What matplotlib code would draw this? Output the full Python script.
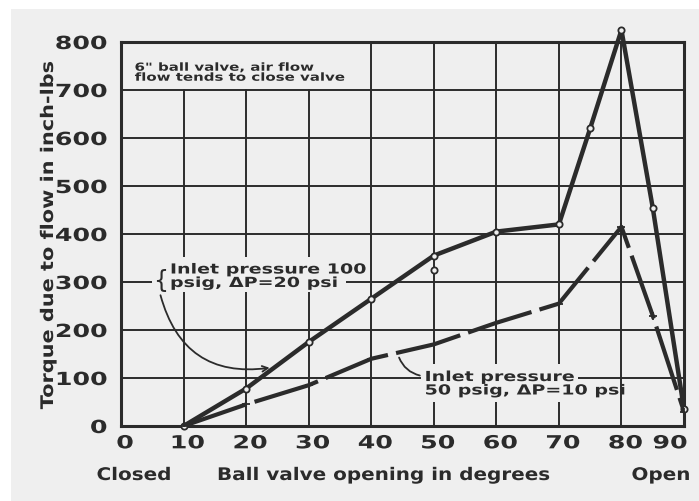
import matplotlib
matplotlib.use("Agg")
import matplotlib.pyplot as plt
from matplotlib.patches import Rectangle
import matplotlib.transforms as mtransforms
from matplotlib.transforms import Affine2D
from matplotlib.patheffects import AbstractPathEffect

# ---- data ----
x_high = [10, 20, 30, 40, 50, 60, 70, 75, 80, 85, 90]
y_high = [0, 78, 175, 265, 355, 405, 420, 620, 825, 455, 35]
x_low = [10, 20, 30, 40, 50, 60, 70, 80, 85, 90]
y_low = [0, 45, 85, 140, 170, 215, 255, 415, 230, 30]
stray_x = [50]
stray_y = [325]

xticks = [0, 10, 20, 30, 40, 50, 60, 70, 80, 90]
xticklabels = ["0", "10", "20", "30", "40", "50", "60", "70", "80", "90"]
yticks = [0, 100, 200, 300, 400, 500, 600, 700, 800]
yticklabels = ["0", "100", "200", "300", "400", "500", "600", "700", "800"]

note_top = '6" ball valve, air flow\nflow tends to close valve'
label_high = "Inlet pressure 100\npsig, \u0394P=20 psi"
label_low = "Inlet pressure\n50 psig, \u0394P=10 psi"
ylabel = "Torque due to flow in inch-lbs"
xlabel = "Ball valve opening in degrees"

BG = "#efefef"
INK = "#2b2b2b"
plt.rcParams["font.family"] = ["DejaVu Sans"]
plt.rcParams["font.weight"] = "bold"


class Stretch(AbstractPathEffect):
    """Widen glyphs horizontally (lettering-guide look)."""
    def __init__(self, sx, anchor="center"):
        super().__init__()
        self.sx = sx
        self.anchor = anchor

    def draw_path(self, renderer, gc, tpath, affine, rgbFace=None):
        ext = tpath.get_extents()
        if self.anchor == "left":
            cx = ext.x0
        elif self.anchor == "right":
            cx = ext.x1
        else:
            cx = 0.5 * (ext.x0 + ext.x1)
        t = Affine2D().translate(-cx, 0).scale(self.sx, 1).translate(cx, 0) + affine
        renderer.draw_path(gc, tpath, t, rgbFace)


fig = plt.figure(figsize=(6.99, 5.02), dpi=100)
fig.patch.set_facecolor("white")
fig.patches.append(Rectangle((11 / 699, 0), 1, (502 - 10) / 502,
                             transform=fig.transFigure, facecolor=BG,
                             edgecolor="none", zorder=-10))

ax = fig.add_axes([121 / 699, 1 - 427 / 502, (684 - 121) / 699, (427 - 43) / 502])
ax.set_facecolor(BG)
ax.set_xlim(0, 90)
ax.set_ylim(0, 800)

# grid
for yv in yticks[1:-1]:
    ax.axhline(yv, color=INK, lw=1.4, zorder=1)
for xv in xticks[1:-1]:
    if xv <= 30:
        ax.plot([xv, xv], [0, 700], color=INK, lw=1.4, zorder=1)
        ax.plot([xv, xv], [785, 800], color=INK, lw=1.4, zorder=1)
    else:
        ax.axvline(xv, color=INK, lw=1.4, zorder=1)

for s in ax.spines.values():
    s.set_linewidth(2.2)
    s.set_color(INK)

# ticks
ax.set_xticks(xticks)
ax.set_xticklabels(xticklabels, fontsize=13, color=INK)
ax.set_yticks(yticks)
ax.set_yticklabels(yticklabels, fontsize=13, color=INK)
ax.tick_params(axis="both", length=0)
ax.tick_params(axis="x", pad=6)
ax.tick_params(axis="y", pad=10)
lbls = ax.get_xticklabels()
for l in lbls:
    l.set_path_effects([Stretch(1.4, "center")])
lbls[-1].set_transform(lbls[-1].get_transform() +
                       mtransforms.ScaledTranslation(-14 / 100, 0, fig.dpi_scale_trans))
for l in lbls[:-1]:
    l.set_transform(l.get_transform() +
                    mtransforms.ScaledTranslation(4 / 100, 0, fig.dpi_scale_trans))
for l in ax.get_yticklabels():
    l.set_path_effects([Stretch(1.4, "right")])

# curves
ax.plot(x_high, y_high, color=INK, lw=3.2, linestyle="-", zorder=4,
        marker="o", markersize=4.5, markerfacecolor=BG, markeredgecolor=INK,
        markeredgewidth=1.3, clip_on=False)
ax.plot(x_low, y_low, color=INK, lw=3.0, linestyle=(0, (16, 2)), zorder=4,
        marker="+", markersize=6, markeredgewidth=1.3)
ax.plot(stray_x, stray_y, linestyle="none", marker="o", markersize=4.5,
        markerfacecolor=BG, markeredgecolor=INK, markeredgewidth=1.3, zorder=4)

# top-left note
ax.add_patch(Rectangle((0, 702), 39.6, 96, facecolor=BG, edgecolor="none", zorder=2))
t = ax.text(2.2, 736, note_top, fontsize=8, color=INK, va="center", ha="left",
            linespacing=1.0, zorder=5)
t.set_path_effects([Stretch(1.35, "left")])

# annotation high curve (background patches hide gridlines under the text)
ax.add_patch(Rectangle((7.0, 312), 32.6, 40, facecolor=BG, edgecolor="none", zorder=2))
ax.add_patch(Rectangle((7.0, 280), 29.0, 33, facecolor=BG, edgecolor="none", zorder=2))
t = ax.text(7.9, 312, label_high, fontsize=10, color=INK, va="center", ha="left",
            linespacing=0.95, zorder=5)
t.set_path_effects([Stretch(1.37, "left")])
ax.text(6.3, 305, "{", fontsize=17, fontweight="normal", color=INK, va="center",
        ha="center", zorder=5,
        bbox=dict(facecolor=BG, edgecolor="none", pad=0.5))
ax.annotate("", xy=(24.2, 122), xytext=(6.2, 278),
            arrowprops=dict(arrowstyle="->", color=INK, lw=1.3,
                            connectionstyle="arc3,rad=0.45"), zorder=5)

# annotation low curve
ax.add_patch(Rectangle((48.0, 88), 25.0, 42, facecolor=BG, edgecolor="none", zorder=2))
ax.add_patch(Rectangle((48.0, 50), 31.0, 39, facecolor=BG, edgecolor="none", zorder=2))
t = ax.text(48.6, 88, label_low, fontsize=10, color=INK, va="center", ha="left",
            linespacing=0.95, zorder=5)
t.set_path_effects([Stretch(1.37, "left")])
ax.annotate("", xy=(44.3, 148), xytext=(48.2, 104),
            arrowprops=dict(arrowstyle="-", color=INK, lw=1.3,
                            connectionstyle="arc3,rad=-0.3"), zorder=5)

# axis labels
t = fig.text(48 / 699, 1 - 236 / 502, ylabel, rotation=90, fontsize=12.5, color=INK,
             ha="center", va="center")
t.set_path_effects([Stretch(1.2, "center")])
for s, xp in [("Closed", 134), (xlabel, 384), ("Open", 661)]:
    t = fig.text(xp / 699, 1 - 476 / 502, s, fontsize=12.5, color=INK,
                 ha="center", va="center")
    t.set_path_effects([Stretch(1.15, "center")])

fig.savefig("out.png", dpi=100)
